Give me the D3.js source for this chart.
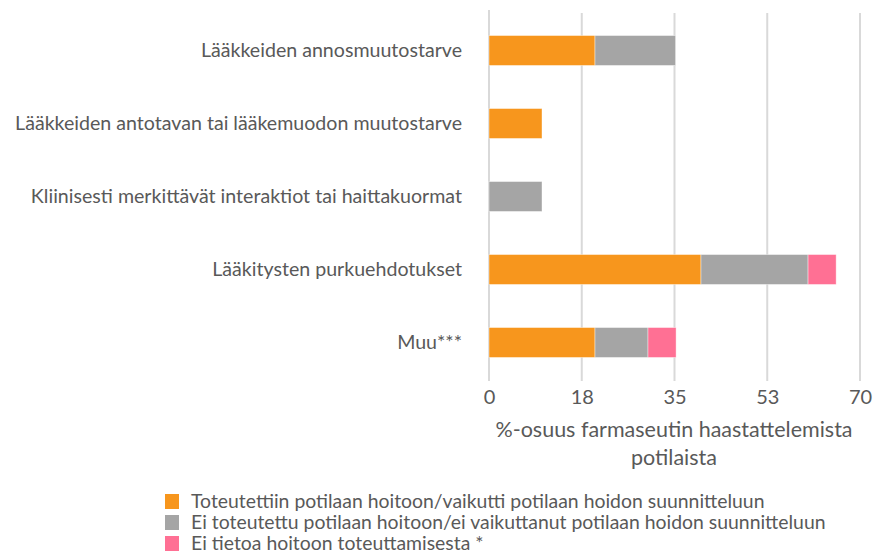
<!DOCTYPE html>
<html>
<head>
<meta charset="utf-8">
<script src="https://cdn.jsdelivr.net/npm/d3@7"></script>
<style>
  body { margin: 0; background: #fff; }
  text { font-family: Lato, "Open Sans", sans-serif; fill: #595959; }
</style>
</head>
<body>
<div id="container"></div>
<script>
const categories = ['Lääkkeiden annosmuutostarve', 'Lääkkeiden antotavan tai lääkemuodon muutostarve',
  'Kliinisesti merkittävät interaktiot tai haittakuormat', 'Lääkitysten purkuehdotukset', 'Muu***'];
const seriesNames = ['Toteutettiin potilaan hoitoon/vaikutti potilaan hoidon suunnitteluun',
  'Ei toteutettu potilaan hoitoon/ei vaikuttanut potilaan hoidon suunnitteluun',
  'Ei tietoa hoitoon toteuttamisesta *'];
const toteutettu = [20, 10, 0, 40, 20];
const eiToteutettu = [15.2, 0, 10, 20.2, 10];
const eiTietoa = [0, 0, 0, 5.3, 5.3];
const tickValues = [0, 17.5, 35, 52.5, 70];
const colors = ['#f7961d', '#a5a5a5', '#ff7094'];

const w = 876;
const h = 553;

const svg = d3.select('#container')
              .append('svg')
              .attr('width', w)
              .attr('height', h);

const rows = categories.map((c, i) => ({
  cat: c, s0: toteutettu[i], s1: eiToteutettu[i], s2: eiTietoa[i]
}));
const stack = d3.stack().keys(['s0', 's1', 's2'])(rows);

const xScale = d3.scaleLinear().domain([0, 70]).range([489, 860]);
const yScale = d3.scaleBand()
                 .domain(categories)
                 .range([14, 379])
                 .paddingInner(0.59)
                 .paddingOuter(0.295);

// gridlines
svg.append('g')
   .selectAll('line')
   .data(tickValues)
   .enter()
   .append('line')
   .attr('x1', (d) => xScale(d))
   .attr('x2', (d) => xScale(d))
   .attr('y1', (d) => d === 0 ? 10 : 13)
   .attr('y2', 381)
   .attr('stroke', '#d9d9d9')
   .attr('stroke-width', 2);

// bars
svg.append('g')
   .selectAll('g')
   .data(stack)
   .enter()
   .append('g')
   .attr('fill', (d, i) => colors[i])
   .selectAll('rect')
   .data((d) => d.filter((p) => p[1] > p[0]))
   .enter()
   .append('rect')
   .attr('x', (d) => xScale(d[0]))
   .attr('y', (d) => yScale(d.data.cat))
   .attr('width', (d) => xScale(d[1]) - xScale(d[0]))
   .attr('height', yScale.bandwidth())
   .attr('stroke', '#fff')
   .attr('stroke-opacity', 0.5)
   .attr('stroke-width', 0.8);

// x axis
const xAxis = d3.axisBottom(xScale)
                .tickValues(tickValues)
                .tickFormat((d) => Math.round(d))
                .tickSize(0)
                .tickPadding(0);
const gx = svg.append('g')
              .attr('transform', 'translate(0, 390)')
              .call(xAxis);
gx.select('.domain').remove();
gx.selectAll('text')
  .attr('dy', '0.71em')
  .style('font-size', '20px')
  .style('font-family', 'Lato, sans-serif')
  .attr('fill', '#595959');

// y labels
svg.append('g')
   .selectAll('text')
   .data(categories)
   .enter()
   .append('text')
   .attr('x', 462)
   .attr('y', (d) => yScale(d) + yScale.bandwidth() / 2 + 6)
   .attr('text-anchor', 'end')
   .style('font-size', '19.6px')
   .text((d) => d);

// axis title
svg.append('text')
   .attr('x', 674)
   .attr('y', 437)
   .attr('text-anchor', 'middle')
   .style('font-size', '21.5px')
   .text('%-osuus farmaseutin haastattelemista');
svg.append('text')
   .attr('x', 674)
   .attr('y', 465)
   .attr('text-anchor', 'middle')
   .style('font-size', '21.5px')
   .text('potilaista');

// legend
const legend = svg.append('g').attr('transform', 'translate(165, 494)');
legend.selectAll('rect')
      .data(seriesNames)
      .enter()
      .append('rect')
      .attr('x', 0)
      .attr('y', (d, i) => i * 21)
      .attr('width', 14)
      .attr('height', 15)
      .attr('fill', (d, i) => colors[i]);
legend.selectAll('text')
      .data(seriesNames)
      .enter()
      .append('text')
      .attr('x', 26)
      .attr('y', (d, i) => i * 21 + 14)
      .style('font-size', '19.4px')
      .text((d) => d);
</script>
</body>
</html>
